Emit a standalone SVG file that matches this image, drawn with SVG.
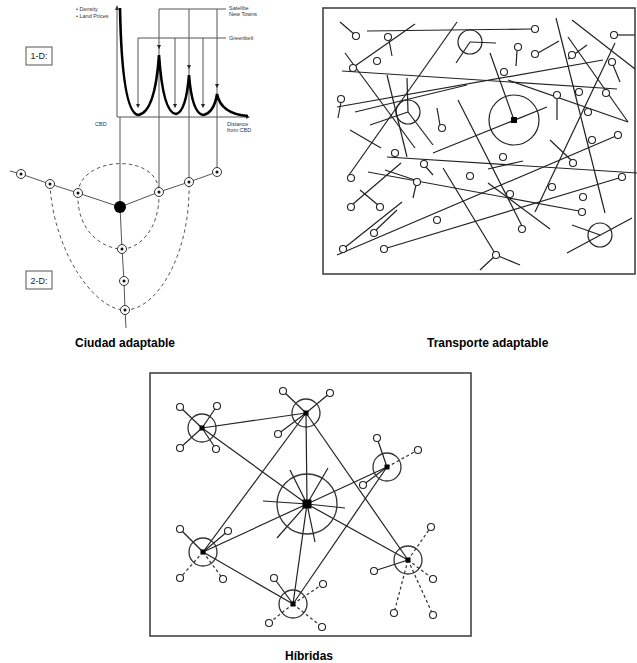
<svg xmlns="http://www.w3.org/2000/svg" xmlns:xlink="http://www.w3.org/1999/xlink" width="637" height="663" viewBox="0 0 637 663">
<style>
.ln{stroke:#222;stroke-width:1.2;fill:none}
.gl{stroke:#555;stroke-width:1;fill:none}
.dash{stroke:#555;stroke-width:1;fill:none;stroke-dasharray:3.5 3}
.sc{fill:#fff;stroke:#222;stroke-width:1.1}
.oc{fill:none;stroke:#222;stroke-width:1.2}
.hub{fill:none;stroke:#333;stroke-width:1.3}
.sd{stroke:#333;stroke-width:1.2;fill:none;stroke-dasharray:3 2.5}
.tiny{font-family:"Liberation Sans",Arial,sans-serif;font-size:5.5px;fill:#333}
.lbl{font-family:"Liberation Sans",Arial,sans-serif;font-size:9px;fill:#222}
.cap{font-family:"Liberation Sans",Arial,sans-serif;font-size:12px;font-weight:bold;fill:#000}
.frame{fill:#fff;stroke:#444;stroke-width:1.6}
</style>
<defs>
<path id="ah" d="M-2,-3 L2,-3 L0,1.2 Z" fill="#222"/>
<g id="t2"><circle r="4.5" fill="#fff" stroke="#333" stroke-width="1"/><circle r="1.5" fill="#111"/></g>
</defs>
<rect width="637" height="663" fill="#fff"/>

<!-- ============ Ciudad adaptable ============ -->
<g id="chart1d">
  <line class="gl" x1="117" y1="117" x2="117" y2="9"/>
  <path d="M115,10 L117,5 L119,10 Z" fill="#333"/>
  <line class="gl" x1="117" y1="117" x2="247" y2="117"/>
  <path d="M246,115 L250,117 L246,119 Z" fill="#333"/>
  <!-- greenbelt -->
  <polyline class="gl" points="138,106 138,38 226,38"/>
  <line class="gl" x1="175" y1="38" x2="175" y2="106"/>
  <line class="gl" x1="203" y1="38" x2="203" y2="106"/>
  <use xlink:href="#ah" x="138" y="107"/>
  <use xlink:href="#ah" x="175" y="107"/>
  <use xlink:href="#ah" x="203" y="107"/>
  <!-- satellite -->
  <polyline class="gl" points="159,192 159,9 226,9"/>
  <line class="gl" x1="189" y1="9" x2="189" y2="182"/>
  <line class="gl" x1="217" y1="9" x2="217" y2="172"/>
  <line class="gl" x1="120" y1="117" x2="120" y2="207"/>
  <use xlink:href="#ah" x="159" y="48"/>
  <use xlink:href="#ah" x="189" y="68"/>
  <use xlink:href="#ah" x="217" y="87"/>
  <path d="M120,8 Q122,112 138,115 Q155,113 159,55 Q163,113 176,114 Q186,112 189,75 Q192,113 203,115 Q214,113 217,94 Q221,114 248,116" fill="none" stroke="#000" stroke-width="2.6"/>
  <text class="tiny" x="76" y="11">• Density</text>
  <text class="tiny" x="76" y="18">• Land Prices</text>
  <text class="tiny" x="229" y="10">Satellite</text>
  <text class="tiny" x="229" y="16">New Towns</text>
  <text class="tiny" x="229" y="40">Greenbelt</text>
  <text class="tiny" x="95" y="126">CBD</text>
  <text class="tiny" x="227" y="126">Distance</text>
  <text class="tiny" x="227" y="132">from CBD</text>
  <rect x="26" y="47" width="26" height="18" fill="#fff" stroke="#555" stroke-width="1"/>
  <text class="lbl" x="39" y="59" text-anchor="middle">1-D:</text>
</g>

<g id="network2d">
  <path class="dash" d="M78,193 C80,156 158,152 159,192 C160,232 137,249 122,249 C104,249 76,232 78,193 Z"/>
  <path class="dash" d="M50,184 C53,250 94,310 125,310 C158,310 191,252 189,182"/>
  <polyline class="gl" points="10,171 21,174 50,184 78,193 120,207 159,192 189,182 217,172"/>
  <polyline class="gl" points="120,207 122,249 124,281 125,310 126,328"/>
  <circle cx="120" cy="207" r="6" fill="#000"/>
  <use xlink:href="#t2" x="21" y="174"/>
  <use xlink:href="#t2" x="50" y="184"/>
  <use xlink:href="#t2" x="78" y="193"/>
  <use xlink:href="#t2" x="159" y="192"/>
  <use xlink:href="#t2" x="189" y="182"/>
  <use xlink:href="#t2" x="217" y="172"/>
  <use xlink:href="#t2" x="122" y="249"/>
  <use xlink:href="#t2" x="124" y="281"/>
  <use xlink:href="#t2" x="125" y="310"/>
  <rect x="26" y="271" width="26" height="18" fill="#fff" stroke="#555" stroke-width="1"/>
  <text class="lbl" x="39" y="284" text-anchor="middle">2-D:</text>
</g>
<text id="cap1" class="cap" x="75" y="347">Ciudad adaptable</text>

<!-- ============ Transporte adaptable ============ -->
<g id="transport">
  <rect class="frame" x="323" y="8" width="312" height="266"/>
  <g class="ln">
    <line x1="340" y1="22" x2="354" y2="34"/>
    <line x1="367" y1="31" x2="532" y2="29"/>
    <line x1="415" y1="24" x2="355" y2="66"/>
    <line x1="389" y1="40" x2="392" y2="56"/>
    <line x1="470" y1="42" x2="496" y2="43"/>
    <line x1="470" y1="42" x2="456" y2="63"/>
    <line x1="517" y1="51" x2="516" y2="66"/>
    <line x1="538" y1="53" x2="559" y2="41"/>
    <line x1="556" y1="18" x2="605" y2="213"/>
    <line x1="572" y1="20" x2="635" y2="69"/>
    <line x1="617" y1="35" x2="635" y2="35"/>
    <line x1="568" y1="37" x2="628" y2="122"/>
    <line x1="587" y1="45" x2="568" y2="59"/>
    <line x1="613" y1="65" x2="620" y2="82"/>
    <line x1="615" y1="43" x2="535" y2="212"/>
    <line x1="337" y1="107" x2="603" y2="60"/>
    <line x1="355" y1="112" x2="467" y2="85"/>
    <line x1="342" y1="71" x2="617" y2="89"/>
    <line x1="490" y1="53" x2="514" y2="120"/>
    <line x1="433" y1="153" x2="547" y2="107"/>
    <line x1="508" y1="80" x2="628" y2="122"/>
    <line x1="557" y1="98" x2="557" y2="120"/>
    <line x1="341" y1="102" x2="338" y2="118"/>
    <line x1="407" y1="78" x2="408" y2="112"/>
    <line x1="408" y1="112" x2="370" y2="125"/>
    <line x1="408" y1="112" x2="433" y2="145"/>
    <line x1="387" y1="75" x2="407" y2="157"/>
    <line x1="457" y1="22" x2="349" y2="175"/>
    <line x1="345" y1="53" x2="415" y2="148"/>
    <line x1="437" y1="108" x2="440" y2="125"/>
    <line x1="458" y1="100" x2="522" y2="226"/>
    <line x1="350" y1="130" x2="381" y2="148"/>
    <line x1="387" y1="157" x2="637" y2="173"/>
    <line x1="426" y1="167" x2="433" y2="175"/>
    <line x1="368" y1="172" x2="579" y2="211"/>
    <line x1="385" y1="170" x2="415" y2="180"/>
    <line x1="416" y1="185" x2="413" y2="198"/>
    <line x1="401" y1="163" x2="353" y2="204"/>
    <line x1="360" y1="190" x2="378" y2="205"/>
    <line x1="376" y1="230" x2="397" y2="210"/>
    <line x1="337" y1="255" x2="616" y2="136"/>
    <line x1="387" y1="248" x2="619" y2="178"/>
    <line x1="343" y1="249" x2="402" y2="202"/>
    <line x1="443" y1="168" x2="496" y2="255"/>
    <line x1="496" y1="255" x2="480" y2="270"/>
    <line x1="496" y1="255" x2="520" y2="265"/>
    <line x1="488" y1="169" x2="523" y2="161"/>
    <line x1="488" y1="183" x2="550" y2="229"/>
    <line x1="550" y1="140" x2="571" y2="160"/>
    <line x1="567" y1="253" x2="632" y2="218"/>
    <line x1="572" y1="225" x2="600" y2="235"/>
  </g>
  <g class="oc">
    <circle cx="470" cy="42" r="12"/>
    <circle cx="514" cy="120" r="25"/>
    <circle cx="408" cy="112" r="12"/>
    <circle cx="600" cy="235" r="12"/>
  </g>
  <rect x="511" y="117" width="6" height="6" fill="#000"/>
  <g class="sc">
    <circle cx="356" cy="36" r="3.5"/>
    <circle cx="535" cy="29" r="3.5"/>
    <circle cx="353" cy="68" r="3.5"/>
    <circle cx="388" cy="37" r="3.5"/>
    <circle cx="377" cy="61" r="3.5"/>
    <circle cx="518" cy="47" r="3.5"/>
    <circle cx="535" cy="54" r="3.5"/>
    <circle cx="614" cy="35" r="3.5"/>
    <circle cx="572" cy="55" r="3.5"/>
    <circle cx="612" cy="62" r="3.5"/>
    <circle cx="579" cy="92" r="3.5"/>
    <circle cx="606" cy="93" r="3.5"/>
    <circle cx="588" cy="112" r="3.5"/>
    <circle cx="618" cy="135" r="3.5"/>
    <circle cx="504" cy="72" r="3.5"/>
    <circle cx="557" cy="95" r="3.5"/>
    <circle cx="341" cy="99" r="3.5"/>
    <circle cx="442" cy="128" r="3.5"/>
    <circle cx="351" cy="178" r="3.5"/>
    <circle cx="395" cy="153" r="3.5"/>
    <circle cx="424" cy="164" r="3.5"/>
    <circle cx="417" cy="182" r="3.5"/>
    <circle cx="351" cy="207" r="3.5"/>
    <circle cx="380" cy="207" r="3.5"/>
    <circle cx="374" cy="233" r="3.5"/>
    <circle cx="437" cy="220" r="3.5"/>
    <circle cx="343" cy="249" r="3.5"/>
    <circle cx="384" cy="249" r="3.5"/>
    <circle cx="622" cy="177" r="3.5"/>
    <circle cx="470" cy="176" r="3.5"/>
    <circle cx="503" cy="157" r="3.5"/>
    <circle cx="510" cy="194" r="3.5"/>
    <circle cx="496" cy="255" r="3.5"/>
    <circle cx="522" cy="229" r="3.5"/>
    <circle cx="552" cy="187" r="3.5"/>
    <circle cx="583" cy="197" r="3.5"/>
    <circle cx="582" cy="212" r="3.5"/>
    <circle cx="573" cy="163" r="3.5"/>
    <circle cx="592" cy="140" r="3.5"/>
  </g>
</g>
<text id="cap2" class="cap" x="427" y="347">Transporte adaptable</text>

<!-- ============ Híbridas ============ -->
<rect id="hybridFrame" class="frame" x="150" y="373" width="321" height="263"/>
<g id="connectors" class="ln">
  <line x1="202" y1="428" x2="306" y2="413"/>
  <line x1="202" y1="428" x2="307" y2="504"/>
  <line x1="306" y1="413" x2="307" y2="504"/>
  <line x1="306" y1="413" x2="203" y2="552"/>
  <line x1="306" y1="413" x2="408" y2="560"/>
  <line x1="307" y1="504" x2="387" y2="467"/>
  <line x1="307" y1="504" x2="203" y2="552"/>
  <line x1="307" y1="504" x2="293" y2="604"/>
  <line x1="307" y1="504" x2="408" y2="560"/>
  <line x1="387" y1="467" x2="293" y2="604"/>
  <line x1="203" y1="552" x2="293" y2="604"/>
</g>
<g id="hubC">
  <g class="ln">
    <line x1="307" y1="504" x2="290" y2="470"/>
    <line x1="307" y1="504" x2="328" y2="468"/>
    <line x1="307" y1="504" x2="263" y2="501"/>
    <line x1="307" y1="504" x2="345" y2="508"/>
    <line x1="307" y1="504" x2="277" y2="538"/>
    <line x1="307" y1="504" x2="315" y2="542"/>
  </g>
  <circle class="hub" cx="307" cy="504" r="30"/>
  <rect x="302.5" y="499.5" width="9" height="9" fill="#000"/>
</g>
<g id="hubA">
  <g class="ln"><line x1="202" y1="428" x2="180" y2="407"/><line x1="202" y1="428" x2="217" y2="406"/><line x1="202" y1="428" x2="180" y2="448"/><line x1="202" y1="428" x2="216" y2="449"/></g>
  <circle class="hub" cx="202" cy="428" r="14"/>
  <rect x="199.5" y="425.5" width="5" height="5" fill="#000"/>
  <g class="sc"><circle cx="180" cy="407" r="3.5"/><circle cx="217" cy="406" r="3.5"/><circle cx="180" cy="448" r="3.5"/><circle cx="216" cy="449" r="3.5"/></g>
</g>
<g id="hubB">
  <g class="ln"><line x1="306" y1="413" x2="283" y2="391"/><line x1="306" y1="413" x2="278" y2="434"/><line x1="306" y1="413" x2="330" y2="393"/></g>
  <circle class="hub" cx="306" cy="413" r="14"/>
  <rect x="303.5" y="410.5" width="5" height="5" fill="#000"/>
  <g class="sc"><circle cx="283" cy="391" r="3.5"/><circle cx="278" cy="434" r="3.5"/><circle cx="330" cy="393" r="3.5"/></g>
</g>
<g id="hubD">
  <g class="ln"><line x1="387" y1="467" x2="377" y2="438"/><line x1="387" y1="467" x2="363" y2="485"/></g>
  <line class="sd" x1="387" y1="467" x2="418" y2="450"/>
  <circle class="hub" cx="387" cy="467" r="14"/>
  <rect x="384.5" y="464.5" width="5" height="5" fill="#000"/>
  <g class="sc"><circle cx="377" cy="438" r="3.5"/><circle cx="363" cy="485" r="3.5"/><circle cx="418" cy="450" r="3.5"/></g>
</g>
<g id="hubE">
  <g class="ln"><line x1="203" y1="552" x2="180" y2="529"/><line x1="203" y1="552" x2="228" y2="531"/></g>
  <g class="sd"><line x1="203" y1="552" x2="180" y2="578"/><line x1="203" y1="552" x2="223" y2="579"/></g>
  <circle class="hub" cx="203" cy="552" r="14"/>
  <rect x="200.5" y="549.5" width="5" height="5" fill="#000"/>
  <g class="sc"><circle cx="180" cy="529" r="3.5"/><circle cx="228" cy="531" r="3.5"/><circle cx="180" cy="578" r="3.5"/><circle cx="223" cy="579" r="3.5"/></g>
</g>
<g id="hubF">
  <line class="ln" x1="293" y1="604" x2="274" y2="578"/>
  <g class="sd"><line x1="293" y1="604" x2="269" y2="623"/><line x1="293" y1="604" x2="322" y2="627"/><line x1="293" y1="604" x2="323" y2="584"/></g>
  <circle class="hub" cx="293" cy="604" r="14"/>
  <rect x="290.5" y="601.5" width="5" height="5" fill="#000"/>
  <g class="sc"><circle cx="274" cy="578" r="3.5"/><circle cx="269" cy="623" r="3.5"/><circle cx="322" cy="627" r="3.5"/><circle cx="323" cy="584" r="3.5"/></g>
</g>
<g id="hubG">
  <line class="ln" x1="408" y1="560" x2="374" y2="571"/>
  <g class="sd"><line x1="408" y1="560" x2="431" y2="527"/><line x1="408" y1="560" x2="433" y2="579"/><line x1="408" y1="560" x2="394" y2="613"/><line x1="408" y1="560" x2="433" y2="615"/></g>
  <circle class="hub" cx="408" cy="560" r="14"/>
  <rect x="405.5" y="557.5" width="5" height="5" fill="#000"/>
  <g class="sc"><circle cx="374" cy="571" r="3.5"/><circle cx="431" cy="527" r="3.5"/><circle cx="433" cy="579" r="3.5"/><circle cx="394" cy="613" r="3.5"/><circle cx="433" cy="615" r="3.5"/></g>
</g>
<text id="cap3" class="cap" x="285" y="660">Híbridas</text>
</svg>
